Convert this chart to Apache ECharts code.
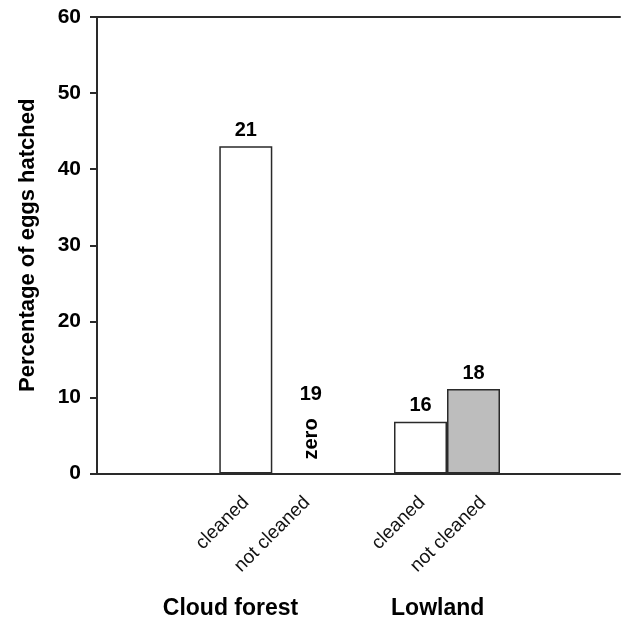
<!DOCTYPE html>
<html>
<head>
<meta charset="utf-8">
<script src="https://cdn.jsdelivr.net/npm/echarts@6/dist/echarts.min.js"></script>
<style>
html,body{margin:0;padding:0;background:#fff;}
#chart{width:621px;height:622px;}
</style>
</head>
<body>
<div id="chart"></div>
<script>
// ---- data ----
const groups = ['Cloud forest', 'Lowland'];
const treatments = ['cleaned', 'not cleaned'];
const hatchedPct = [[43, 0], [6.8, 11.1]];   // % of eggs hatched
const sampleN = [[21, 19], [16, 18]];        // n above bars
const yMin = 0, yMax = 60, yStep = 10;

// ---- styles ----
const FONT = '"Liberation Sans", Arial, sans-serif';
const LINE = '#2a2a2a';
const treatmentFill = ['#ffffff', '#bdbdbd'];
const TOP = 17, BOTTOM = 148.5;
const barGrids = [{ left: 219.3, width: 106 }, { left: 394, width: 106 }];
const labelGrids = [{ left: 215.5, width: 122 }, { left: 391.5, width: 122 }];

const chart = echarts.init(document.getElementById('chart'));

const NG = groups.length;
const grid = [{ left: 97, right: 1, top: TOP, bottom: BOTTOM }]
  .concat(barGrids.map(g => ({ left: g.left, width: g.width, top: TOP, bottom: BOTTOM })))
  .concat(labelGrids.map(g => ({ left: g.left, width: g.width, top: TOP, bottom: BOTTOM })));

const xAxis = [
  { gridIndex: 0, type: 'value', min: 0, max: 1, position: 'bottom',
    axisLine: { show: true, lineStyle: { color: LINE, width: 2 } },
    axisTick: { show: false }, axisLabel: { show: false }, splitLine: { show: false } },
  { gridIndex: 0, type: 'value', min: 0, max: 1, position: 'top',
    axisLine: { show: true, lineStyle: { color: LINE, width: 2 } },
    axisTick: { show: false }, axisLabel: { show: false }, splitLine: { show: false } }
].concat(groups.map((g, gi) => ({
  gridIndex: gi + 1, type: 'category', data: treatments,
  axisLine: { show: false }, axisTick: { show: false }, splitLine: { show: false },
  axisLabel: { show: false }
}))).concat(groups.map((g, gi) => ({
  gridIndex: gi + 1 + NG, type: 'category', data: treatments,
  axisLine: { show: false }, axisTick: { show: false }, splitLine: { show: false },
  axisLabel: { interval: 0, rotate: 45, margin: 26, fontFamily: FONT, fontSize: 19, color: '#111' }
})));

const yAxis = [
  { gridIndex: 0, type: 'value', min: yMin, max: yMax, interval: yStep,
    name: 'Percentage of eggs hatched', nameLocation: 'middle', nameGap: 58, nameRotate: 90,
    nameTextStyle: { fontFamily: FONT, fontSize: 22, fontWeight: 'bold', color: '#000' },
    axisLine: { show: true, lineStyle: { color: LINE, width: 2 } },
    axisTick: { show: true, inside: false, length: 7, lineStyle: { color: LINE, width: 2 } },
    axisLabel: { margin: 16, fontFamily: FONT, fontSize: 21, fontWeight: 'bold', color: '#000' },
    splitLine: { show: false } }
].concat(groups.map((g, gi) => ({
  gridIndex: gi + 1, type: 'value', min: yMin, max: yMax, show: false
}))).concat(groups.map((g, gi) => ({
  gridIndex: gi + 1 + NG, type: 'value', min: yMin, max: yMax, show: false
})));

const series = [];
groups.forEach((g, gi) => {
  series.push({
    name: g, type: 'bar', xAxisIndex: gi + 2, yAxisIndex: gi + 1,
    barCategoryGap: '0%', barGap: '-100%',
    data: hatchedPct[gi].map((v, ti) => ({
      value: v,
      itemStyle: v === 0
        ? { color: 'rgba(0,0,0,0)', borderWidth: 0 }
        : { color: treatmentFill[ti], borderColor: LINE, borderWidth: 1.5 },
      label: v === 0 ? { offset: [12, -63] } : {}
    })),
    label: {
      show: true, position: 'top', distance: 6,
      fontFamily: FONT, fontSize: 20, fontWeight: 'bold', color: '#000',
      formatter: p => String(sampleN[gi][p.dataIndex])
    },
    silent: true
  });
  // note for empty (zero) bars
  series.push({
    name: g + ' note', type: 'bar', xAxisIndex: gi + 2, yAxisIndex: gi + 1,
    barCategoryGap: '0%', barGap: '-100%',
    data: hatchedPct[gi].map(v => v),
    itemStyle: { color: 'rgba(0,0,0,0)', borderWidth: 0 },
    label: {
      show: true, position: 'top', distance: 14, rotate: 90,
      align: 'left', verticalAlign: 'middle', offset: [0, 13],
      fontFamily: FONT, fontSize: 20, fontWeight: 'bold', color: '#000',
      formatter: p => (p.value === 0 ? 'zero' : '')
    },
    silent: true
  });
});

const groupLabelX = [230.5, 437.7];
const graphic = groups.map((g, gi) => ({
  type: 'text', x: groupLabelX[gi], y: 609,
  style: { text: g, fontFamily: FONT, fontSize: 23, fontWeight: 'bold', fill: '#000',
           align: 'center', verticalAlign: 'middle' }
}));

chart.setOption({
  animation: false,
  backgroundColor: '#fff',
  grid, xAxis, yAxis, series, graphic
});
</script>
</body>
</html>
